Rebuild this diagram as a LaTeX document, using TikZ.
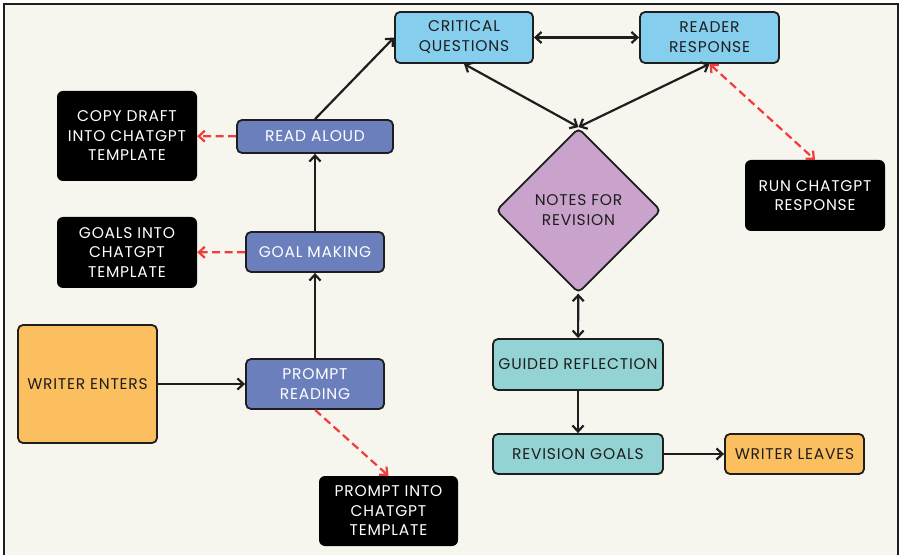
\documentclass[tikz,border=0pt]{standalone}
\usepackage{fontspec}
\setmainfont{Poppins}
\newfontfamily\boxfont[LetterSpace=5]{Poppins}
\usetikzlibrary{arrows.meta,shapes.geometric}
\definecolor{paper}{HTML}{F7F6EE}
\definecolor{skyfill}{HTML}{85CEEE}
\definecolor{slatefill}{HTML}{6B7FBD}
\definecolor{orangefill}{HTML}{FBBF5F}
\definecolor{lilacfill}{HTML}{C9A3CC}
\definecolor{tealfill}{HTML}{93D3D3}
\definecolor{inkdark}{HTML}{1E1E1E}
\definecolor{dashred}{HTML}{F03C3C}
\begin{document}
\begin{tikzpicture}[x=1pt,y=-1pt,>={Straight Barb[length=6pt,width=11pt]},
  stepbox/.style={draw=inkdark,line width=1.8pt,rounded corners=5pt,inner sep=0pt,align=center,
    font=\boxfont\fontsize{15.5}{20}\selectfont,text=inkdark},
  gptbox/.style={fill=black,rounded corners=6pt,inner sep=0pt,align=center,
    font=\boxfont\fontsize{15.5}{19.5}\selectfont,text=white},
  flow/.style={->,line width=2.2pt,draw=inkdark},
  twoway/.style={<->,line width=2.2pt,draw=inkdark},
  gptlink/.style={->,line width=2.2pt,draw=dashred,dash pattern=on 8pt off 4.5pt}]
\fill [white] (0,0) rectangle (902,555);
\fill [paper] (4,4) rectangle (898,555);
\draw [draw=inkdark,line width=1.3pt] (4,555) -- (4,4) -- (898,4) -- (898,555);

\node (critical) at (464,37.5) [stepbox,fill=skyfill,minimum width=138pt,minimum height=51pt] {CRITICAL\\QUESTIONS};
\node (reader) at (709.5,37.5) [stepbox,fill=skyfill,minimum width=139pt,minimum height=51pt] {READER\\RESPONSE};
\node (copydraft) at (127,136) [gptbox,minimum width=140pt,minimum height=90pt] {COPY DRAFT\\INTO CHATGPT\\TEMPLATE};
\node (readaloud) at (315,136.5) [stepbox,fill=slatefill,text=white,minimum width=156pt,minimum height=33pt] {READ ALOUD};
\node (goalsinto) at (127,252.5) [gptbox,minimum width=140pt,minimum height=71pt] {GOALS INTO\\CHATGPT\\TEMPLATE};
\node (goalmaking) at (315,252) [stepbox,fill=slatefill,text=white,minimum width=138pt,minimum height=40pt] {GOAL MAKING};
\node (enters) at (87.5,384) [stepbox,fill=orangefill,minimum width=139pt,minimum height=118pt] {WRITER ENTERS};
\node (prompt) at (315,384) [stepbox,fill=slatefill,text=white,minimum width=138pt,minimum height=50pt] {PROMPT\\READING};
\node (promptinto) at (388.5,511) [gptbox,minimum width=139pt,minimum height=70pt] {PROMPT INTO\\CHATGPT\\TEMPLATE};
\node (notes) at (578.5,210.5) [stepbox,shape=diamond,fill=lilacfill,minimum width=165pt,minimum height=165pt] {NOTES FOR\\REVISION};
\node (runchat) at (815,195.5) [gptbox,minimum width=140pt,minimum height=71pt] {RUN CHATGPT\\RESPONSE};
\node (guided) at (578,364.5) [stepbox,fill=tealfill,minimum width=170pt,minimum height=51pt] {GUIDED REFLECTION};
\node (revgoals) at (578,454) [stepbox,fill=tealfill,minimum width=170pt,minimum height=40pt] {REVISION GOALS};
\node (leaves) at (794.5,454) [stepbox,fill=orangefill,minimum width=139pt,minimum height=40pt] {WRITER LEAVES};

\draw [flow] (enters) -- (prompt);
\draw [flow] (prompt) -- (goalmaking);
\draw [flow] (goalmaking) -- (readaloud);
\draw [flow] (readaloud.north) -- (critical.west);
\draw [twoway] (critical) -- (reader);
\draw [twoway] (critical.south) -- (notes.north);
\draw [twoway] (reader.south) -- (notes.north);
\draw [twoway] (notes) -- (guided);
\draw [flow] (guided) -- (revgoals);
\draw [flow] (revgoals) -- (leaves);
\draw [gptlink] (readaloud) -- (copydraft);
\draw [gptlink] (goalmaking) -- (goalsinto);
\draw [gptlink] (prompt.south) -- (promptinto.north);
\draw [gptlink,<->] (reader.south) -- (runchat.north);
\end{tikzpicture}
\end{document}
